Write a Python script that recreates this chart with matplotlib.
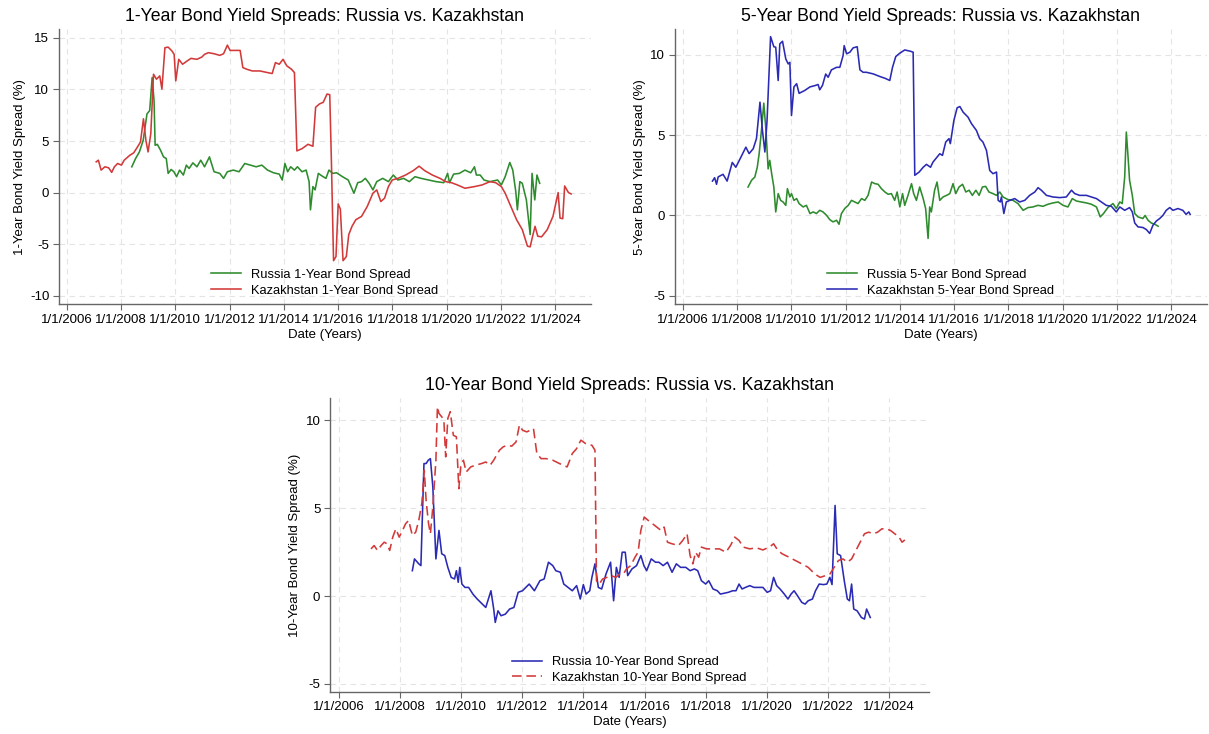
import matplotlib
matplotlib.use("Agg")
import matplotlib.pyplot as plt

plt.rcParams['font.family'] = ['Liberation Sans', 'DejaVu Sans']
plt.rcParams['axes.unicode_minus'] = False

# x 轴刻度：2006-2024，每两年一个
tick_years = [2006, 2008, 2010, 2012, 2014, 2016, 2018, 2020, 2022, 2024]
tick_labels = ["1/1/%d" % y for y in tick_years]

# ---------------- 1年期 ----------------
kz1_t = [2007.09, 2007.17, 2007.27, 2007.41, 2007.55, 2007.66, 2007.76, 2007.88, 2008.02, 2008.12,
         2008.33, 2008.47, 2008.61, 2008.72, 2008.83, 2008.92, 2009.0, 2009.1, 2009.2, 2009.31,
         2009.43, 2009.51, 2009.62, 2009.74, 2009.88, 2009.96, 2010.02, 2010.13, 2010.27, 2010.44,
         2010.58, 2010.8, 2010.98, 2011.08, 2011.22, 2011.43, 2011.64, 2011.78, 2011.92, 2012.02,
         2012.21, 2012.39, 2012.49, 2012.63, 2012.84, 2013.12, 2013.4, 2013.57, 2013.69, 2013.83,
         2013.97, 2014.11, 2014.28, 2014.39, 2014.48, 2014.67, 2014.89, 2015.07, 2015.17, 2015.31,
         2015.45, 2015.59, 2015.69, 2015.75, 2015.83, 2015.92, 2016.0, 2016.08, 2016.18, 2016.3,
         2016.39, 2016.51, 2016.65, 2016.86, 2017.07, 2017.28, 2017.42, 2017.57, 2017.71, 2017.85,
         2017.99, 2018.2, 2018.48, 2018.76, 2018.98, 2019.19, 2019.47, 2019.75, 2019.96, 2020.17,
         2020.39, 2020.67, 2021.02, 2021.3, 2021.59, 2021.8, 2022.01, 2022.15, 2022.36, 2022.57,
         2022.78, 2022.97, 2023.07, 2023.16, 2023.25, 2023.35, 2023.49, 2023.7, 2023.91, 2024.1,
         2024.17, 2024.27, 2024.34, 2024.48, 2024.58]
kz1_v = [2.98, 3.14, 2.18, 2.5, 2.4, 1.96, 2.5, 2.82, 2.66, 3.14,
         3.62, 3.85, 4.42, 4.9, 7.15, 5.06, 3.94, 5.7, 11.47, 10.99,
         11.31, 10.03, 14.04, 14.1, 13.72, 13.4, 10.83, 12.92, 12.44, 12.76,
         13.01, 12.92, 13.14, 13.4, 13.56, 13.46, 13.3, 13.46, 14.29, 13.78,
         13.78, 13.78, 12.12, 11.96, 11.79, 11.79, 11.63, 11.54, 12.6, 12.44,
         12.92, 12.28, 11.96, 11.63, 4.04, 4.26, 4.68, 4.49, 8.27, 8.59,
         8.75, 9.55, 9.49, 3.14, -6.6, -6.2, -1.1, -1.6, -6.6, -6.2,
         -4.07, -3.27, -2.63, -2.31, -1.35, -0.06, 0.26, -0.87, -0.54, 0.58,
         1.22, 1.38, 1.7, 2.12, 2.56, 2.12, 1.7, 1.38, 1.06, 0.96,
         0.74, 0.42, 0.58, 0.74, 1.06, 0.96, 0.58, -0.06, -1.35, -2.63,
         -3.59, -5.19, -5.26, -4.23, -3.27, -4.23, -4.29, -3.59, -2.31, 0.0,
         -2.47, -2.53, 0.64, 0.0, -0.13]

ru1_t = [2008.4, 2008.54, 2008.68, 2008.82, 2008.96, 2009.06, 2009.15, 2009.22, 2009.26, 2009.34,
         2009.46, 2009.57, 2009.67, 2009.74, 2009.85, 2009.95, 2010.05, 2010.16, 2010.3, 2010.41,
         2010.51, 2010.65, 2010.8, 2010.94, 2011.08, 2011.26, 2011.43, 2011.64, 2011.78, 2011.92,
         2012.14, 2012.35, 2012.56, 2012.77, 2012.98, 2013.19, 2013.4, 2013.62, 2013.83, 2013.94,
         2014.04, 2014.14, 2014.25, 2014.39, 2014.5, 2014.67, 2014.82, 2014.93, 2014.98, 2015.07,
         2015.15, 2015.27, 2015.41, 2015.55, 2015.66, 2015.8, 2015.94, 2016.16, 2016.37, 2016.58,
         2016.72, 2016.86, 2017.0, 2017.14, 2017.28, 2017.42, 2017.64, 2017.85, 2018.03, 2018.2,
         2018.41, 2018.62, 2018.83, 2019.05, 2019.33, 2019.61, 2019.89, 2020.03, 2020.1, 2020.25,
         2020.46, 2020.67, 2020.88, 2021.02, 2021.09, 2021.23, 2021.37, 2021.59, 2021.87, 2022.01,
         2022.15, 2022.32, 2022.43, 2022.54, 2022.6, 2022.69, 2022.78, 2022.93, 2023.07, 2023.14,
         2023.24, 2023.32, 2023.42]
ru1_v = [2.5, 3.3, 3.94, 5.06, 7.63, 7.95, 11.15, 8.91, 4.58, 4.68,
         4.1, 3.46, 3.3, 1.86, 2.24, 2.02, 1.54, 2.18, 1.7, 2.66,
         2.34, 2.88, 2.5, 3.14, 2.5, 3.46, 2.02, 1.86, 1.38, 2.02,
         2.18, 2.02, 2.82, 2.66, 2.5, 2.66, 2.18, 1.92, 1.79, 1.22,
         2.82, 2.02, 2.5, 2.18, 2.5, 2.02, 2.18, 1.06, -1.67, 0.58,
         0.26, 1.86, 1.6, 1.38, 2.18, 1.86, 1.92, 1.54, 1.22, -0.06,
         0.96, 1.06, 1.38, 0.9, 0.26, 1.06, 1.38, 1.06, 1.7, 1.22,
         1.38, 1.06, 1.54, 1.38, 1.22, 1.06, 0.96, 1.86, 0.96, 1.79,
         1.86, 2.18, 1.92, 2.5, 1.7, 1.7, 1.22, 1.06, 1.22, 0.74,
         1.54, 2.92, 2.18, 0.1, -1.67, 1.06, 0.9, -0.71, -4.07, 1.86,
         -0.71, 1.7, 0.9]

# ---------------- 5年期 ----------------
kz5_t = [2007.1, 2007.18, 2007.25, 2007.31, 2007.49, 2007.64, 2007.83, 2007.96, 2008.11, 2008.33,
         2008.45, 2008.6, 2008.72, 2008.85, 2008.94, 2009.03, 2009.11, 2009.24, 2009.36, 2009.43,
         2009.52, 2009.58, 2009.68, 2009.8, 2009.89, 2009.95, 2010.01, 2010.1, 2010.2, 2010.29,
         2010.5, 2010.69, 2010.87, 2010.99, 2011.05, 2011.15, 2011.27, 2011.36, 2011.48, 2011.67,
         2011.79, 2011.91, 2011.95, 2012.04, 2012.16, 2012.28, 2012.43, 2012.53, 2012.65, 2012.77,
         2013.02, 2013.26, 2013.45, 2013.63, 2013.73, 2013.85, 2014.0, 2014.18, 2014.39, 2014.49,
         2014.55, 2014.71, 2014.86, 2014.98, 2015.13, 2015.22, 2015.37, 2015.47, 2015.57, 2015.69,
         2015.81, 2015.86, 2015.99, 2016.11, 2016.21, 2016.33, 2016.51, 2016.64, 2016.82, 2016.94,
         2017.06, 2017.19, 2017.31, 2017.43, 2017.56, 2017.62, 2017.7, 2017.74, 2017.83, 2017.92,
         2018.05, 2018.23, 2018.41, 2018.6, 2018.78, 2018.97, 2019.09, 2019.21, 2019.4, 2019.64,
         2019.89, 2020.13, 2020.32, 2020.44, 2020.62, 2020.87, 2021.05, 2021.24, 2021.42, 2021.6,
         2021.79, 2021.97, 2022.1, 2022.28, 2022.46, 2022.56, 2022.65, 2022.77, 2022.95, 2023.08,
         2023.2, 2023.32, 2023.45, 2023.57, 2023.69, 2023.81, 2023.94, 2024.06, 2024.24, 2024.42,
         2024.54, 2024.64, 2024.69]
kz5_v = [2.14, 2.35, 1.94, 2.4, 2.56, 2.14, 3.3, 3.0, 3.5, 4.25,
         3.85, 4.15, 4.78, 7.05, 5.3, 3.95, 5.9, 11.13, 10.5, 10.47,
         8.4, 10.68, 10.84, 9.74, 9.43, 9.53, 6.22, 8.0, 8.2, 7.6,
         7.78, 8.0, 8.08, 8.15, 7.82, 8.09, 8.8, 8.6, 9.06, 9.22,
         9.22, 9.95, 10.57, 10.06, 10.16, 10.43, 10.5, 9.06, 8.91, 8.91,
         8.81, 8.65, 8.54, 8.4, 9.22, 9.89, 10.1, 10.3, 10.22, 10.16,
         2.5, 2.7, 3.0, 3.18, 3.0, 3.32, 3.63, 3.84, 3.74, 4.57,
         4.78, 4.47, 5.91, 6.7, 6.78, 6.43, 6.12, 5.71, 5.29, 4.78,
         4.57, 4.05, 2.8, 2.6, 2.7, 0.94, 0.84, 1.15, 0.12, 0.84,
         0.94, 1.05, 0.84, 0.94, 1.25, 1.46, 1.73, 1.57, 1.25, 1.15,
         1.11, 1.15, 1.57, 1.36, 1.25, 1.25, 1.15, 1.05, 0.84, 0.63,
         0.57, 0.22, 0.53, 0.32, 0.49, 0.22, -0.47, -0.71, -0.75, -0.88,
         -1.12, -0.61, -0.34, -0.19, 0.01, 0.32, 0.49, 0.32, 0.43, 0.32,
         0.07, 0.22, 0.07]

ru5_t = [2008.41, 2008.54, 2008.66, 2008.75, 2008.82, 2008.91, 2008.99, 2009.07, 2009.15, 2009.21,
         2009.28, 2009.36, 2009.43, 2009.52, 2009.61, 2009.7, 2009.8, 2009.86, 2009.95, 2010.01,
         2010.1, 2010.2, 2010.29, 2010.44, 2010.56, 2010.69, 2010.81, 2010.93, 2011.05, 2011.17,
         2011.3, 2011.42, 2011.54, 2011.67, 2011.76, 2011.85, 2011.97, 2012.1, 2012.22, 2012.34,
         2012.46, 2012.59, 2012.71, 2012.83, 2012.96, 2013.08, 2013.2, 2013.32, 2013.45, 2013.57,
         2013.69, 2013.81, 2013.9, 2014.0, 2014.1, 2014.18, 2014.3, 2014.43, 2014.51, 2014.61,
         2014.73, 2014.86, 2014.95, 2015.04, 2015.1, 2015.16, 2015.28, 2015.37, 2015.47, 2015.59,
         2015.72, 2015.84, 2015.96, 2016.06, 2016.18, 2016.31, 2016.43, 2016.55, 2016.67, 2016.8,
         2016.92, 2017.04, 2017.16, 2017.28, 2017.43, 2017.56, 2017.68, 2017.8, 2017.98, 2018.17,
         2018.35, 2018.54, 2018.72, 2018.9, 2019.09, 2019.27, 2019.46, 2019.64, 2019.83, 2020.01,
         2020.19, 2020.35, 2020.5, 2020.68, 2020.87, 2021.05, 2021.24, 2021.38, 2021.5, 2021.66,
         2021.85, 2021.97, 2022.1, 2022.19, 2022.28, 2022.34, 2022.4, 2022.46, 2022.56, 2022.65,
         2022.77, 2022.95, 2023.03, 2023.14, 2023.26, 2023.39, 2023.51]
ru5_v = [1.77, 2.19, 2.39, 3.0, 3.85, 5.4, 6.99, 5.29, 2.9, 3.43,
         2.6, 1.77, 0.22, 1.36, 0.94, 0.84, 0.63, 1.67, 1.15, 1.36,
         0.94, 1.05, 0.74, 0.53, 0.63, 0.12, 0.22, 0.12, 0.32, 0.22,
         0.01, -0.26, -0.4, -0.3, -0.55, 0.12, 0.43, 0.63, 0.94, 0.84,
         0.74, 1.05, 0.94, 1.25, 2.08, 1.98, 1.94, 1.67, 1.46, 1.32,
         1.36, 0.94, 1.46, 0.53, 1.36, 0.63, 1.25, 1.98, 1.36, 0.94,
         1.77, 1.05, 0.43, -1.43, 0.53, 0.22, 1.57, 2.08, 0.94, 1.15,
         1.25, 1.36, 1.98, 1.36, 1.77, 1.94, 1.46, 1.57, 1.25, 1.57,
         1.25, 1.77, 1.81, 1.46, 1.36, 1.25, 1.46, 1.15, 0.99, 0.94,
         0.74, 0.32, 0.49, 0.53, 0.63, 0.57, 0.7, 0.78, 0.84, 0.63,
         0.53, 1.05, 0.9, 0.84, 0.78, 0.7, 0.53, -0.09, 0.12, 0.49,
         0.74, 0.43, 0.84, 0.74, 2.39, 5.19, 3.74, 2.19, 1.25, 0.12,
         -0.09, -0.19, 0.0, -0.3, -0.47, -0.55, -0.67]

# ---------------- 10年期 ----------------
kz10_t = [2007.06, 2007.16, 2007.27, 2007.39, 2007.49, 2007.58, 2007.67, 2007.77, 2007.87, 2007.98,
          2008.09, 2008.19, 2008.29, 2008.41, 2008.52, 2008.62, 2008.72, 2008.8, 2008.86, 2008.94,
          2009.0, 2009.08, 2009.18, 2009.23, 2009.28, 2009.37, 2009.44, 2009.5, 2009.57, 2009.65,
          2009.75, 2009.85, 2009.93, 2009.99, 2010.08, 2010.17, 2010.32, 2010.46, 2010.67, 2010.81,
          2010.95, 2011.07, 2011.16, 2011.26, 2011.38, 2011.52, 2011.66, 2011.8, 2011.91, 2012.01,
          2012.15, 2012.37, 2012.48, 2012.62, 2012.79, 2013.0, 2013.22, 2013.47, 2013.64, 2013.78,
          2013.92, 2014.07, 2014.28, 2014.38, 2014.43, 2014.52, 2014.63, 2014.77, 2014.91, 2015.06,
          2015.2, 2015.31, 2015.41, 2015.55, 2015.69, 2015.79, 2015.88, 2015.99, 2016.12, 2016.26,
          2016.4, 2016.54, 2016.64, 2016.75, 2016.9, 2017.11, 2017.25, 2017.39, 2017.49, 2017.58,
          2017.67, 2017.77, 2017.86, 2018.03, 2018.24, 2018.45, 2018.66, 2018.81, 2018.95, 2019.09,
          2019.23, 2019.44, 2019.66, 2019.87, 2020.08, 2020.22, 2020.36, 2020.5, 2020.72, 2020.93,
          2021.14, 2021.35, 2021.57, 2021.74, 2021.92, 2022.06, 2022.2, 2022.34, 2022.49, 2022.63,
          2022.77, 2022.91, 2023.05, 2023.19, 2023.33, 2023.48, 2023.62, 2023.76, 2023.9, 2024.04,
          2024.18, 2024.32, 2024.42, 2024.51]
kz10_v = [2.68, 2.87, 2.59, 2.87, 3.06, 2.97, 2.59, 3.35, 3.82, 3.35,
          3.73, 4.11, 4.3, 3.44, 3.63, 4.3, 5.25, 7.15, 5.44, 4.11,
          3.54, 5.06, 7.72, 10.76, 10.38, 10.19, 10.0, 7.91, 10.1, 10.48,
          9.14, 9.05, 6.1, 7.34, 7.72, 7.05, 7.34, 7.43, 7.53, 7.62,
          7.43, 7.72, 8.0, 8.29, 8.48, 8.57, 8.52, 8.76, 9.71, 9.43,
          9.33, 9.52, 8.1, 7.81, 7.81, 7.72, 7.53, 7.34, 8.1, 8.38,
          8.86, 8.67, 8.57, 8.29, 0.87, 0.68, 0.97, 1.06, 1.16, 1.06,
          1.25, 1.25, 1.54, 1.73, 2.21, 2.49, 3.73, 4.49, 4.3, 4.11,
          3.92, 3.73, 3.92, 3.06, 2.97, 2.87, 3.16, 3.54, 2.3, 1.83,
          2.49, 2.21, 2.78, 2.68, 2.68, 2.68, 2.49, 2.87, 3.35, 3.16,
          2.78, 2.68, 2.74, 2.62, 2.78, 2.97, 2.59, 2.4, 2.21, 2.02,
          1.83, 1.63, 1.25, 1.06, 1.16, 1.25, 1.63, 2.02, 2.11, 1.92,
          2.11, 2.59, 3.06, 3.54, 3.63, 3.54, 3.63, 3.82, 3.82, 3.73,
          3.54, 3.35, 3.06, 3.19]

ru10_t = [2008.41, 2008.48, 2008.62, 2008.69, 2008.79, 2008.86, 2008.93, 2009.0, 2009.08, 2009.18,
          2009.28, 2009.37, 2009.47, 2009.57, 2009.68, 2009.79, 2009.85, 2009.91, 2009.96, 2010.03,
          2010.13, 2010.25, 2010.39, 2010.53, 2010.7, 2010.81, 2010.98, 2011.07, 2011.12, 2011.21,
          2011.31, 2011.45, 2011.59, 2011.73, 2011.87, 2012.01, 2012.23, 2012.4, 2012.58, 2012.72,
          2012.86, 2013.0, 2013.1, 2013.25, 2013.36, 2013.5, 2013.64, 2013.78, 2013.9, 2014.0,
          2014.09, 2014.21, 2014.28, 2014.38, 2014.49, 2014.6, 2014.74, 2014.89, 2014.99, 2015.08,
          2015.17, 2015.27, 2015.37, 2015.45, 2015.59, 2015.74, 2015.88, 2015.98, 2016.07, 2016.22,
          2016.36, 2016.47, 2016.61, 2016.75, 2016.9, 2017.04, 2017.18, 2017.35, 2017.49, 2017.63,
          2017.74, 2017.86, 2018.0, 2018.1, 2018.24, 2018.38, 2018.48, 2018.59, 2018.74, 2018.88,
          2018.99, 2019.09, 2019.19, 2019.3, 2019.44, 2019.58, 2019.73, 2019.87, 2020.01, 2020.12,
          2020.22, 2020.32, 2020.43, 2020.57, 2020.69, 2020.79, 2020.89, 2021.0, 2021.14, 2021.25,
          2021.35, 2021.49, 2021.59, 2021.71, 2021.85, 2021.96, 2022.06, 2022.13, 2022.23, 2022.3,
          2022.41, 2022.53, 2022.63, 2022.7, 2022.77, 2022.84, 2022.95, 2023.09, 2023.19, 2023.26,
          2023.38]
ru10_v = [1.44, 2.11, 1.83, 1.73, 7.53, 7.53, 7.72, 7.81, 6.2, 2.11,
          3.73, 2.4, 2.3, 1.63, 1.06, 0.97, 1.44, 0.78, 1.63, 0.68,
          0.49, 0.49, 0.11, -0.17, -0.46, -0.65, 0.3, -0.74, -1.5, -0.84,
          -1.12, -1.03, -0.74, -0.65, 0.21, 0.3, 0.68, 0.3, 0.87, 0.97,
          1.92, 1.73, 1.44, 1.35, 0.68, 0.49, 0.3, 0.59, -0.17, 0.65,
          0.11, 0.3, 1.06, 1.83, 0.49, 0.4, 1.25, 1.92, -0.27, 1.63,
          1.06, 2.49, 2.49, 1.16, 1.54, 1.73, 2.3, 1.73, 1.44, 2.11,
          1.92, 1.92, 1.73, 1.92, 1.35, 1.83, 1.63, 1.63, 1.44, 1.54,
          1.44, 0.87, 0.68, 0.87, 0.4, 0.3, 0.11, 0.15, 0.21, 0.3,
          0.3, 0.68, 0.4, 0.49, 0.59, 0.49, 0.49, 0.49, 0.21, 0.3,
          1.06, 0.59, 0.4, 0.11, -0.17, 0.11, 0.3, 0.02, -0.36, -0.46,
          -0.27, -0.17, 0.3, 0.68, 0.65, 0.68, 1.06, 0.65, 5.15, 2.4,
          2.3, 0.87, -0.17, -0.27, 0.68, -0.74, -0.84, -1.22, -1.31, -0.74,
          -1.22]

GREEN = "#2e8b2e"
RED = "#d23a3a"
BLUE = "#2a2ab4"


# 画一个子图
def draw(ax, title, ylabel, yticks, ylim, series):
    for t, v, color, ls, label in series:
        line, = ax.plot(t, v, color=color, linewidth=1.15, label=label)
        if ls == "--":
            line.set_dashes((6, 3))
    ax.set_xlim(2005.72, 2025.3)
    ax.set_ylim(*ylim)
    ax.set_xticks(tick_years)
    ax.set_xticklabels(tick_labels)
    ax.set_yticks(yticks)
    ax.set_title(title, fontsize=12.7, pad=6)
    ax.set_xlabel("Date (Years)", fontsize=9.5, labelpad=2)
    ax.set_ylabel(ylabel, fontsize=9.5, labelpad=3)
    ax.tick_params(labelsize=9.5, length=4, width=0.8, color="#666666", pad=3)
    ax.grid(True, color="#e4e4e4", linestyle=(0, (5, 4)), linewidth=0.8)
    ax.set_axisbelow(True)
    for s in ["top", "right"]:
        ax.spines[s].set_visible(False)
    for s in ["left", "bottom"]:
        ax.spines[s].set_color("#666666")
        ax.spines[s].set_linewidth(1.0)
    ax.legend(loc="lower center", frameon=False, fontsize=9.3, handlelength=2.3,
              labelspacing=0.3, borderaxespad=0.2)


fig = plt.figure(figsize=(12.09, 7.34), dpi=100)

ax1 = fig.add_axes([0.0488, 0.5854, 0.4398, 0.3750])
draw(ax1, "1-Year Bond Yield Spreads: Russia vs. Kazakhstan", "1-Year Bond Yield Spread (%)",
     [-10, -5, 0, 5, 10, 15], (-10.83, 15.85),
     [(ru1_t, ru1_v, GREEN, "-", "Russia 1-Year Bond Spread"),
      (kz1_t, kz1_v, RED, "-", "Kazakhstan 1-Year Bond Spread")])

ax2 = fig.add_axes([0.5583, 0.5854, 0.4398, 0.3750])
draw(ax2, "5-Year Bond Yield Spreads: Russia vs. Kazakhstan", "5-Year Bond Yield Spread (%)",
     [-5, 0, 5, 10], (-5.53, 11.6),
     [(ru5_t, ru5_v, GREEN, "-", "Russia 5-Year Bond Spread"),
      (kz5_t, kz5_v, BLUE, "-", "Kazakhstan 5-Year Bond Spread")])

ax3 = fig.add_axes([0.2730, 0.0576, 0.4954, 0.4000])
draw(ax3, "10-Year Bond Yield Spreads: Russia vs. Kazakhstan", "10-Year Bond Yield Spread (%)",
     [-5, 0, 5, 10], (-5.44, 11.25),
     [(ru10_t, ru10_v, BLUE, "-", "Russia 10-Year Bond Spread"),
      (kz10_t, kz10_v, RED, "--", "Kazakhstan 10-Year Bond Spread")])

fig.savefig("out.png", dpi=100)
